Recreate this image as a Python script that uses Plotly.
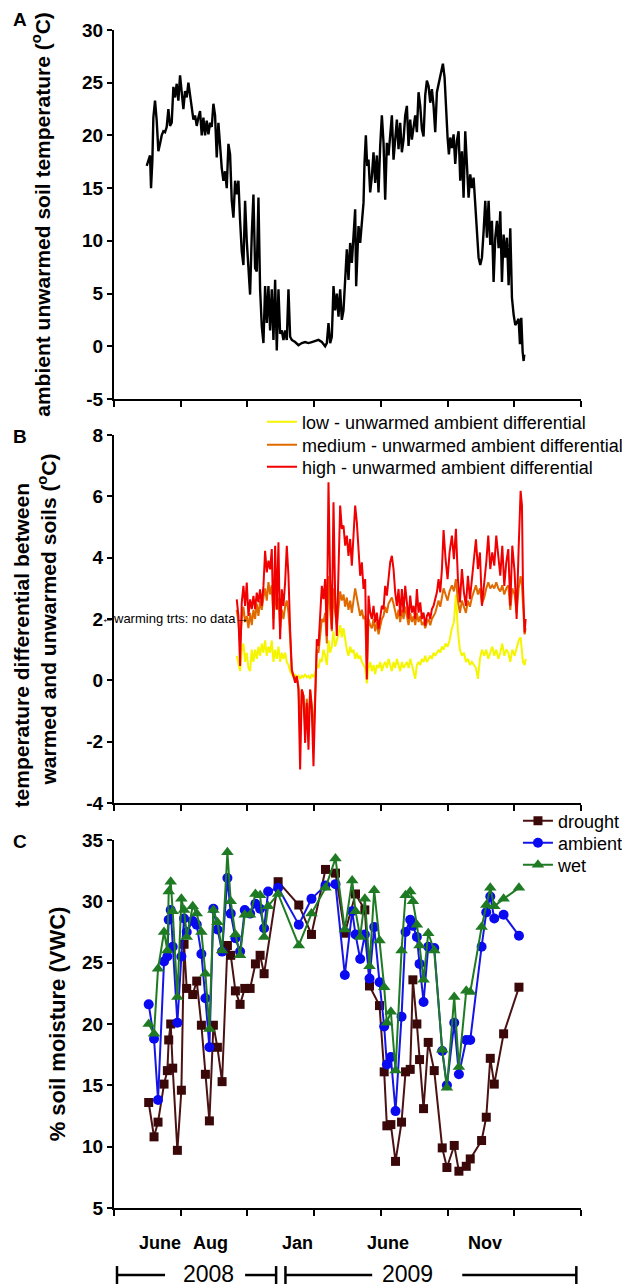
import plotly.graph_objects as go

FONT = "Liberation Sans, Arial, Helvetica, sans-serif"

# ---------------- Panel A : ambient unwarmed soil temperature (days since 1 Apr 2008) ----------------
a_day = [49, 51.5, 54, 55.5, 57.5, 59, 61.5, 64, 66.5, 69,
         71.5, 74, 76.5, 79, 81.5, 84, 86.5, 89, 91.5, 94,
         96.5, 99, 101.5, 104, 106.5, 109, 111.5, 114, 116.5, 119,
         121.5, 124, 126.5, 129, 131.5, 134, 136.5, 139, 141.5, 144,
         146.5, 149, 151.5, 154, 156.5, 159, 161.5, 164, 166.5, 169,
         171.5, 174, 176.5, 179, 181.5, 184, 186.5, 189, 191.5, 194,
         196.5, 199, 201.5, 204, 206.5, 209, 211.5, 214, 216.5, 219,
         221.5, 224, 226.5, 229, 231.5, 234, 236.5, 239, 241.5, 244,
         246.5, 249, 251.5, 254, 256.5, 259, 261.5, 264, 266.5, 271.5,
         276.5, 281.5, 286.5, 291.5, 296.5, 301.5, 306.5, 311.5, 316.5, 319,
         321.5, 324, 326.5, 329, 331.5, 334, 336.5, 339, 341.5, 344,
         346.5, 349, 351.5, 354, 356.5, 359, 361.5, 363, 365, 366.5,
         369, 371.5, 374, 375.5, 377.5, 379.5, 381.5, 384, 386.5, 389,
         391.5, 394, 396.5, 399, 401.5, 404, 406.5, 409, 411.5, 414,
         416.5, 419, 421.5, 424, 426.5, 429, 431.5, 434, 436.5, 439,
         441.5, 444, 446.5, 449, 451.5, 454, 456.5, 459, 461.5, 464,
         466.5, 469, 471.5, 474, 476.5, 479, 481.5, 484, 489, 493,
         495.5, 498, 500, 502, 504, 506.5, 509, 511.5, 514, 516.5,
         519, 521.5, 524, 526.5, 529, 531.5, 534, 536.5, 539, 541.5,
         544, 546.5, 549, 551.5, 554, 556.5, 559, 561.5, 564, 566.5,
         569, 571.5, 574, 576.5, 579, 581.5, 584, 586.5, 589, 591.5,
         594, 596.5, 599, 601.5, 604, 606.5, 608.5, 610.5, 612.5, 614,
         615]
a_temp = [17.1, 17.6, 18.1, 15.0, 17.6, 21.7, 23.3, 21.4, 18.5, 19.2,
          20.0, 20.4, 20.3, 20.8, 22.5, 20.9, 21.2, 24.6, 23.6, 24.9,
          23.3, 25.7, 23.9, 22.5, 24.2, 23.6, 25.0, 23.9, 23.0, 21.5,
          21.9, 20.9, 21.7, 22.3, 20.0, 21.7, 20.0, 21.4, 20.1, 21.2,
          20.8, 23.0, 21.9, 17.9, 21.2, 18.5, 16.9, 15.7, 16.6, 15.0,
          19.2, 18.2, 13.8, 12.2, 15.7, 14.4, 15.7, 11.9, 9.0, 7.7,
          13.8, 10.0, 7.7, 4.9, 10.6, 14.4, 7.4, 7.1, 14.1, 5.4,
          1.9, 0.3, 5.7, 2.2, 5.7, 1.5, 5.4, 0.6, 6.3, -0.4,
          5.4, 1.2, 1.5, 0.6, 1.5, 0.6, 5.4, 0.9, 0.6, 0.4,
          0.1, 0.3, 0.4, 0.3, 0.4, 0.5, 0.6, 0.4, 0.0, 0.3,
          2.2, 0.3, 0.9, 5.7, 3.4, 5.0, 2.8, 5.4, 2.5, 3.4,
          6.9, 9.2, 6.3, 9.8, 7.9, 10.1, 13.0, 5.7, 8.5, 11.4,
          9.8, 11.7, 13.6, 17.4, 20.0, 17.1, 17.7, 14.6, 16.1, 18.4,
          15.5, 18.1, 14.6, 19.0, 21.9, 19.3, 13.9, 19.3, 18.1, 20.0,
          21.9, 17.7, 20.0, 21.5, 18.7, 21.2, 18.4, 19.6, 21.9, 22.8,
          19.0, 21.5, 19.6, 20.9, 21.9, 20.3, 24.1, 22.8, 20.6, 19.9,
          23.8, 25.2, 24.7, 23.1, 24.4, 22.8, 20.3, 24.1, 25.6, 26.8,
          25.5, 21.7, 19.8, 18.2, 19.8, 18.8, 20.1, 17.3, 19.5, 20.4,
          15.7, 18.5, 14.1, 20.4, 17.3, 14.1, 16.3, 15.0, 16.0, 13.4,
          10.9, 8.4, 7.7, 8.4, 10.9, 13.8, 10.3, 13.8, 9.6, 11.9,
          6.1, 10.3, 11.9, 9.3, 12.8, 6.1, 10.6, 8.4, 10.3, 5.8,
          11.2, 4.6, 3.0, 2.0, 2.3, 2.6, 0.2, 2.7, -0.5, -1.4,
          -0.8]

# ---------------- Panel B : warmed - unwarmed differentials ----------------
b_day = [184, 186.5, 189, 191.5, 194, 196.5, 199, 201.5, 204, 206.5,
         209, 211.5, 214, 216.5, 219, 221.5, 224, 226.5, 229, 231.5,
         234, 236.5, 239, 241.5, 244, 246.5, 249, 251.5, 254, 256.5,
         259, 261.5, 264, 266.5, 269, 271.5, 274, 276.5, 279, 281.5,
         284, 286.5, 289, 291.5, 294, 296.5, 299, 301.5, 304, 306.5,
         309, 311.5, 314, 316.5, 319, 321.5, 324, 326.5, 329, 331.5,
         334, 336.5, 339, 341.5, 344, 346.5, 349, 351.5, 354, 356.5,
         359, 361.5, 364, 366.5, 369, 371.5, 374, 376.5, 379, 381.5,
         384, 386.5, 389, 391.5, 394, 396.5, 399, 401.5, 404, 406.5,
         409, 411.5, 414, 416.5, 419, 421.5, 424, 426.5, 429, 431.5,
         434, 436.5, 439, 441.5, 444, 446.5, 449, 451.5, 454, 456.5,
         459, 461.5, 464, 466.5, 469, 471.5, 474, 476.5, 479, 481.5,
         484, 486.5, 489, 491.5, 494, 497, 500, 503, 506.5, 509.5,
         512.5, 515.5, 518.5, 521.5, 524.5, 527.5, 530.5, 533.5, 536.5, 539.5,
         542.5, 545.5, 548.5, 551.5, 555, 558, 561, 564, 567, 570,
         573, 576, 579, 582, 585, 588, 591, 594, 597, 600.5,
         603.5, 606.5, 609.5, 611.5, 613, 615.5, 617]
b_high = [2.64, 2.1, 0.47, 2.54, 3.08, 2.43, 3.19, 2.1, 2.64, 2.32,
          2.75, 2.32, 2.86, 2.54, 2.97, 2.43, 3.08, 4.22, 3.52, 3.9,
          3.62, 4.28, 1.66, 4.39, 2.32, 4.5, 1.34, 2.97, 2.43, 3.19,
          4.39, 3.41, 1.66, 0.36, 0.14, -0.08, 0.14, -0.3, -2.91, -0.3,
          -0.51, -2.04, -0.73, -2.26, -0.3, -0.95, -2.8, -0.2, 1.34, 1.12,
          2.0, 3.08, 2.65, 3.3, 1.45, 6.46, 3.3, 1.67, 5.81, 2.76,
          1.45, 3.52, 5.7, 4.94, 5.05, 4.39, 4.72, 4.06, 4.61, 3.74,
          4.94, 5.7, 5.15, 4.39, 3.41, 3.85, 2.98, 3.3, 0.03, 2.76,
          2.21, 2.0, 2.43, 1.89, 2.21, 1.67, 2.0, 2.43, 2.32, 3.08,
          2.76, 3.3, 3.85, 4.06, 3.63, 2.87, 2.43, 2.98, 2.1, 2.98,
          2.21, 3.08, 2.43, 2.0, 2.76, 2.21, 2.43, 2.0, 2.98, 2.21,
          2.54, 2.0, 2.21, 1.78, 2.1, 2.21, 2.0, 2.32, 2.43, 2.65,
          2.87, 3.3, 2.87, 3.6, 4.9, 3.95, 3.3, 4.17, 4.72, 3.95,
          4.94, 3.3, 2.54, 3.63, 2.87, 2.43, 3.41, 2.65, 3.3, 3.95,
          4.6, 3.63, 4.17, 2.43, 3.08, 3.85, 4.72, 3.63, 4.17, 3.74,
          4.72, 3.95, 3.41, 4.39, 3.08, 3.85, 4.28, 2.43, 4.39, 3.52,
          2.0, 4.28, 6.18, 5.7, 3.08, 1.56, 2.0]
b_medium = [2.3, 1.9, 1.2, 2.0, 2.4, 1.9, 2.1, 1.7, 2.2, 1.8,
            2.3, 2.0, 2.5, 2.1, 2.6, 2.3, 2.7, 3.0, 2.6, 3.2,
            2.8, 3.1, 2.0, 2.9, 2.3, 2.7, 1.7, 2.3, 2.0, 2.4,
            2.6, 2.2, 1.4, 0.3, 0.15, 0.05, 0.1, -0.2, -1.8, -0.3,
            -0.5, -1.5, -0.6, -1.6, -0.3, -0.8, -1.9, -0.1, 1.0, 0.9,
            1.5, 2.0, 1.9, 2.2, 1.2, 3.4, 2.3, 1.6, 3.0, 2.2,
            1.8, 2.5, 2.9, 2.6, 2.8, 2.4, 2.7, 2.3, 2.6, 2.2,
            2.7, 3.0, 2.7, 2.4, 2.1, 2.3, 2.0, 2.1, 0.3, 2.0,
            1.8, 1.7, 2.0, 1.6, 1.9, 1.5, 1.8, 2.0, 2.1, 2.4,
            2.2, 2.5, 2.6, 2.7, 2.5, 2.2, 2.0, 2.3, 1.9, 2.3,
            2.0, 2.4, 2.1, 1.8, 2.2, 1.9, 2.1, 1.8, 2.2, 1.9,
            2.1, 1.8, 1.9, 1.7, 1.9, 2.0, 1.8, 2.0, 2.1, 2.2,
            2.4, 2.6, 2.4, 2.7, 3.0, 2.8, 2.6, 2.9, 3.1, 2.9,
            3.3, 2.6, 2.2, 2.6, 2.4, 2.2, 2.6, 2.4, 2.7, 2.9,
            3.1, 2.8, 3.0, 2.5, 2.7, 3.0, 3.2, 3.0, 3.1, 3.0,
            3.2, 3.0, 2.9, 3.1, 2.8, 3.0, 3.1, 2.3, 3.0, 2.8,
            2.2, 3.0, 3.4, 3.1, 2.4, 1.5, 1.7]
b_low = [0.8, 0.5, 0.3, 1.0, 1.2, 0.6, 0.9, 0.4, 0.3, 1.0,
         0.6, 1.0, 0.7, 1.1, 0.8, 1.2, 0.9, 1.3, 0.8, 1.1,
         0.9, 1.3, 0.6, 1.0, 0.7, 1.1, 0.6, 0.9, 0.7, 0.9,
         0.6, 0.5, 0.3, 0.2, 0.1, 0.2, 0.1, 0.15, 0.05, 0.15,
         0.1, 0.2, 0.1, 0.15, 0.05, 0.2, 0.1, 0.25, 0.5, 0.4,
         0.7, 0.6, 1.0, 0.8, 0.5, 1.3, 0.9, 1.1, 1.6, 1.1,
         1.3, 1.5, 1.8, 1.4, 1.7, 1.3, 1.0, 0.8, 1.1, 0.9,
         1.0, 0.7, 0.9, 0.7, 0.8, 0.6, 0.5, 0.4, -0.1, 0.4,
         0.6, 0.3, 0.5, 0.2, 0.5, 0.4, 0.6, 0.3, 0.5, 0.6,
         0.4, 0.7, 0.5, 0.3, 0.6, 0.4, 0.7, 0.5, 0.3, 0.6,
         0.4, 0.5, 0.6, 0.4, 0.7, 0.5, 0.3, 0.05, 0.5, 0.6,
         0.5, 0.7, 0.6, 0.8, 0.6, 0.7, 0.8, 0.7, 0.9, 0.8,
         0.9, 1.0, 0.9, 1.1, 1.0, 1.2, 1.1, 1.3, 1.7, 1.9,
         2.8, 1.6, 1.0, 0.8, 0.9, 0.6, 0.7, 0.5, 0.6, 0.5,
         0.4, 0.05, 0.7, 1.0, 0.8, 1.0, 0.7, 0.9, 1.1, 0.8,
         1.0, 0.7, 0.9, 1.2, 0.8, 1.0, 0.9, 0.6, 1.0, 0.8,
         1.1, 1.3, 1.4, 0.9, 0.6, 0.5, 0.7]
b_names = ["low - unwarmed ambient differential",
           "medium - unwarmed ambient differential",
           "high - unwarmed ambient differential"]

# ---------------- Panel C : % soil moisture ----------------
c_day = [52, 60, 66, 75, 80, 82, 85, 88, 95, 101,
         105, 109, 118, 124, 131, 137, 143, 149, 155, 162,
         170, 175, 182, 189, 196, 204, 212, 219, 225, 231,
         246, 277, 296, 317, 332, 346, 357, 362, 369, 376,
         383, 390, 398, 405, 409, 415, 422, 431, 437, 444,
         448, 454, 458, 464, 471, 480, 492, 499, 510, 517,
         528, 534, 551, 558, 564, 570, 584, 607]
c_drought = [13.6, 10.8, 12.0, 15.1, 16.2, 18.7, 20.0, 16.4, 9.7, 14.6,
             26.5, 22.9, 22.4, 23.5, 19.9, 15.9, 12.1, 19.9, 18.1, 15.3,
             26.4, 25.6, 22.7, 21.6, 22.9, 22.9, 24.9, 25.6, 24.1, None,
             31.6, 29.7, 27.3, 32.6, 32.3, 27.4, None, 30.6, None, 29.3,
             23.1, None, 21.5, 16.1, 11.7, 11.8, 8.8, 12.0, 16.1, 16.3,
             23.6, 20.0, 17.1, 13.1, 18.5, 16.2, 9.9, 8.3, 10.1, 8.0,
             8.4, 9.0, 10.5, 12.4, 17.2, 15.1, 19.2, 23.0]
c_ambient = [21.6, 18.8, 13.8, 25.1, 25.5, 28.5, 29.3, 26.3, 20.1, 25.5,
             28.6, 27.5, 28.4, 28.1, 25.7, 22.1, 18.1, 29.4, 27.7, 25.9,
             31.9, 29.0, 27.0, 25.9, 29.3, 29.0, 29.8, 29.4, 27.8, 30.8,
             31.1, 28.1, 30.2, 31.3, 31.4, 24.0, 29.2, 27.3, 25.3, 27.3,
             23.7, 27.9, 23.4, 19.8, 16.7, 17.3, 12.9, 20.6, 27.5, 28.5,
             28.0, 27.1, 24.9, 21.8, 26.3, 26.2, 17.8, 15.0, 20.1, 15.9,
             18.7, 18.7, 26.3, 29.1, 30.4, 28.6, 28.9, 27.2]
c_wet = [20.0, 19.2, 24.5, 27.5, 26.0, 30.8, 31.6, 29.2, 22.2, 30.2,
         29.3, 27.1, 29.6, 29.0, 27.5, 24.1, 19.6, 29.3, 28.3, 26.0,
         34.0, 30.0, 27.3, 25.6, 28.9, 28.9, 30.6, 30.5, 27.1, 29.6,
         30.6, 26.4, 29.0, 31.1, 33.5, 27.7, 31.7, 29.2, 27.1, 30.2,
         24.7, 30.9, 26.8, 23.0, 20.1, 21.0, 16.2, 26.0, 30.5, 30.8,
         30.0, 28.1, 26.4, 23.6, 27.4, 26.0, 17.9, 14.8, 22.2, 16.5,
         22.7, 22.6, 27.9, 29.7, 31.1, 29.6, 30.2, 31.1]

# ---------------- axis tick labels / time labels ----------------
a_ticks = [-5, 0, 5, 10, 15, 20, 25, 30]
a_ticktext = ["-5", "0", "5", "10", "15", "20", "25", "30"]
b_ticks = [-4, -2, 0, 2, 4, 6, 8]
b_ticktext = ["-4", "-2", "0", "2", "4", "6", "8"]
c_ticks = [5, 10, 15, 20, 25, 30, 35]
c_ticktext = ["5", "10", "15", "20", "25", "30", "35"]
month_labels = ["June", "Aug", "Jan", "June", "Nov"]
month_days = [69, 145, 275, 411, 556]
year_labels = ["2008", "2009"]
year_days = [141, 440]

fig = go.Figure()

fig.add_trace(go.Scatter(x=a_day, y=a_temp, mode="lines", showlegend=False,
                         line=dict(color="black", width=2.4), xaxis="x", yaxis="y"))

b_colors = ["#f5f500", "#e06a00", "#f00000"]
b_legends = ["legend", "legend3", "legend4"]
for nm, vals, col, lg in zip(b_names, [b_low, b_medium, b_high], b_colors, b_legends):
    fig.add_trace(go.Scatter(x=b_day, y=vals, mode="lines", name=nm,
                             line=dict(color=col, width=2),
                             xaxis="x2", yaxis="y2", legend=lg))

fig.add_trace(go.Scatter(x=c_day, y=c_drought, mode="lines+markers", name="drought",
                         connectgaps=True,
                         line=dict(color="#4a1212", width=2),
                         marker=dict(symbol="square", size=9, color="#3a0808"),
                         xaxis="x3", yaxis="y3", legend="legend2"))
fig.add_trace(go.Scatter(x=c_day, y=c_ambient, mode="lines+markers", name="ambient",
                         line=dict(color="#1515e6", width=2),
                         marker=dict(symbol="circle", size=10, color="#0a0af0"),
                         xaxis="x3", yaxis="y3", legend="legend5"))
fig.add_trace(go.Scatter(x=c_day, y=c_wet, mode="lines+markers", name="wet",
                         line=dict(color="#1f7a24", width=2),
                         marker=dict(symbol="triangle-up", size=11, color="#1f7a24"),
                         xaxis="x3", yaxis="y3", legend="legend6"))


def xax(anchor):
    return dict(domain=[0, 1], anchor=anchor, range=[0, 700], tickmode="linear",
                tick0=0, dtick=100, ticks="outside", ticklen=6, tickwidth=2,
                tickcolor="black", showline=True, linewidth=2, linecolor="black",
                showticklabels=False, showgrid=False, zeroline=False)


def yax(anchor, dom, rng, vals, text, title, tsize, standoff):
    return dict(domain=dom, anchor=anchor, range=rng, tickmode="array",
                tickvals=vals, ticktext=text, ticks="outside", ticklen=5,
                tickwidth=2, tickcolor="black", showline=True, linewidth=2,
                linecolor="black", showgrid=False, zeroline=False,
                tickfont=dict(family=FONT, size=19, color="black", weight="bold"),
                title=dict(text=title, standoff=standoff,
                           font=dict(family=FONT, size=tsize, color="black", weight="bold")))


def leg(x, y):
    return dict(x=x, xanchor="left", y=y, yanchor="middle",
                font=dict(family=FONT, size=18, color="black"),
                bgcolor="rgba(0,0,0,0)", borderwidth=0)


nb = "\u00a0" * 9
fig.update_layout(
    width=622, height=1280,
    margin=dict(l=106, r=49, t=22, b=80, autoexpand=False),
    paper_bgcolor="white", plot_bgcolor="white",
    font=dict(family=FONT, color="black"),
    xaxis=xax("y"), xaxis2=xax("y2"), xaxis3=xax("y3"),
    yaxis=yax("x", [0.6868, 1.0], [-5, 30], a_ticks, a_ticktext,
              "ambient unwarmed soil temperature (<sup>o</sup>C)", 21, 26),
    yaxis2=yax("x2", [0.3438, 0.6562], [-4, 8], b_ticks, b_ticktext,
               "temperature differential between" + nb +
               "<br>warmed and unwarmed soils (<sup>o</sup>C)" + nb, 21, 24),
    yaxis3=yax("x3", [0.0, 0.3124], [5, 35], c_ticks, c_ticktext,
               "% soil moisture (VWC)", 22, 10),
    legend=leg(0.3169, 0.6672),
    legend3=leg(0.3169, 0.6477),
    legend4=leg(0.3169, 0.6290),
    legend2=leg(0.865, 0.3285),
    legend5=leg(0.865, 0.3098),
    legend6=leg(0.865, 0.2912),
)

ann = []
for lab, yy in [("A", 1.0085), ("B", 0.6553), ("C", 0.3107)]:
    ann.append(dict(text="<b>%s</b>" % lab, xref="paper", yref="paper", x=-0.2205, y=yy,
                    xanchor="left", yanchor="middle", showarrow=False,
                    font=dict(family=FONT, size=19, color="black")))
ann.append(dict(text="\u2190warming trts: no data\u2192", xref="x2", yref="y2", x=90, y=2,
                xanchor="center", yanchor="middle", showarrow=False,
                font=dict(family="Liberation Sans Narrow, Arial Narrow, " + FONT, size=13, color="black")))
for lab, d in zip(month_labels, month_days):
    ann.append(dict(text="<b>%s</b>" % lab, xref="x3", yref="paper", x=d, y=-0.0297,
                    xanchor="center", yanchor="middle", showarrow=False,
                    font=dict(family=FONT, size=18, color="black")))
for lab, d in zip(year_labels, year_days):
    ann.append(dict(text=lab, xref="x3", yref="paper", x=d, y=-0.0560,
                    xanchor="center", yanchor="middle", showarrow=False,
                    font=dict(family=FONT, size=23, color="black")))
fig.update_layout(annotations=ann)

# year brackets under the time axis
yl, hb = -0.0569, 0.0076
segs = [(4.5, 76.5), (196.5, 243), (257, 387), (522, 693)]
bars = [4.5, 243, 257, 693]
shapes = []
for x0, x1 in segs:
    shapes.append(dict(type="line", xref="paper", yref="paper", x0=x0 / 700, x1=x1 / 700,
                       y0=yl, y1=yl, line=dict(color="black", width=2.5)))
for xb in bars:
    shapes.append(dict(type="line", xref="paper", yref="paper", x0=xb / 700, x1=xb / 700,
                       y0=yl - hb, y1=yl + hb, line=dict(color="black", width=2.5)))
fig.update_layout(shapes=shapes)

fig.write_html("out.html")
